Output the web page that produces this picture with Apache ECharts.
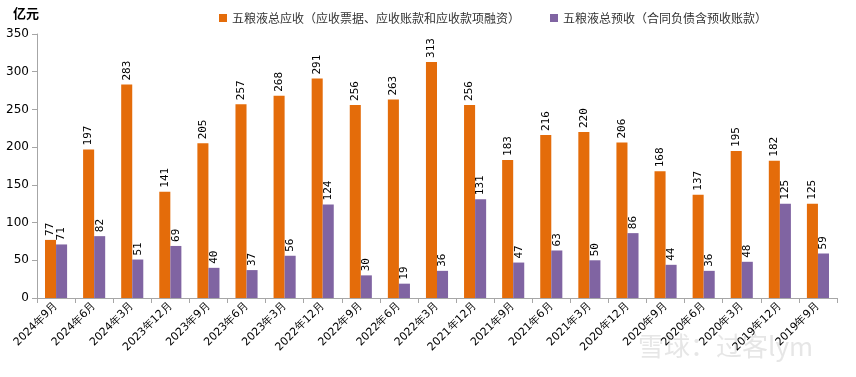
<!DOCTYPE html>
<html>
<head>
<meta charset="utf-8">
<script src="https://cdn.jsdelivr.net/npm/echarts@6/dist/echarts.min.js"></script>
<style>
  html, body { margin: 0; padding: 0; background: #fff; }
  #chart { width: 856px; height: 377px; }
</style>
</head>
<body>
<div id="chart"></div>
<script>
const categories = ['2024年9月', '2024年6月', '2024年3月', '2023年12月', '2023年9月', '2023年6月', '2023年3月',
  '2022年12月', '2022年9月', '2022年6月', '2022年3月', '2021年12月', '2021年9月', '2021年6月', '2021年3月',
  '2020年12月', '2020年9月', '2020年6月', '2020年3月', '2019年12月', '2019年9月']
const receivable = [77, 197, 283, 141, 205, 257, 268, 291, 256, 263, 313, 256, 183, 216, 220, 206, 168, 137, 195, 182, 125]
const advance = [71, 82, 51, 69, 40, 37, 56, 124, 30, 19, 36, 131, 47, 63, 50, 86, 44, 36, 48, 125, 59]
const seriesNames = ['五粮液总应收（应收票据、应收账款和应收款项融资）', '五粮液总预收（合同负债含预收账款）']

const myChart = echarts.init(document.getElementById('chart'))

const barLabel = {
  show: true,
  position: 'top',
  rotate: 90,
  align: 'left',
  verticalAlign: 'middle',
  distance: 4,
  color: '#000',
  fontSize: 11,
  fontFamily: 'DejaVu Sans Mono'
}

myChart.setOption({
  animation: false,
  textStyle: { fontFamily: 'Noto Sans CJK SC' },
  legend: {
    top: 7,
    left: 214,
    itemWidth: 8,
    itemHeight: 8,
    itemGap: 30,
    icon: 'rect',
    textStyle: { fontSize: 12, color: '#333', fontFamily: 'Noto Sans CJK SC' },
    data: seriesNames
  },
  graphic: [
    {
      type: 'text',
      left: 13,
      top: 7,
      style: { text: '亿元', font: 'bold 13px "Noto Sans CJK SC"', fill: '#000' }
    },
    {
      type: 'text',
      left: 638,
      top: 333,
      style: { text: '雪球：过客lym', font: '26px "Noto Sans CJK SC"', fill: 'rgba(200,200,200,0.45)' }
    }
  ],
  grid: {
    top: 34,
    bottom: 79,
    left: 37,
    right: 19,
    containLabel: false
  },
  xAxis: {
    type: 'category',
    data: categories,
    axisLine: { lineStyle: { color: '#a6a6a6' } },
    axisTick: { show: true, alignWithLabel: false, length: 5, lineStyle: { color: '#a6a6a6' } },
    axisLabel: {
      interval: 0,
      rotate: 45,
      fontSize: 11,
      color: '#000',
      fontFamily: 'DejaVu Sans',
      margin: 6
    }
  },
  yAxis: {
    type: 'value',
    min: 0,
    max: 350,
    interval: 50,
    splitLine: { show: false },
    axisLine: { show: true, lineStyle: { color: '#a6a6a6' } },
    axisTick: { show: true, length: 5, lineStyle: { color: '#a6a6a6' } },
    axisLabel: { fontSize: 12, color: '#000', fontFamily: 'DejaVu Sans', margin: 8 }
  },
  series: [
    {
      name: seriesNames[0],
      type: 'bar',
      data: receivable,
      barGap: '0%',
      barCategoryGap: '42%',
      itemStyle: { color: '#E46C0A' },
      label: barLabel
    },
    {
      name: seriesNames[1],
      type: 'bar',
      data: advance,
      itemStyle: { color: '#8064A2' },
      label: barLabel
    }
  ]
})
</script>
</body>
</html>
